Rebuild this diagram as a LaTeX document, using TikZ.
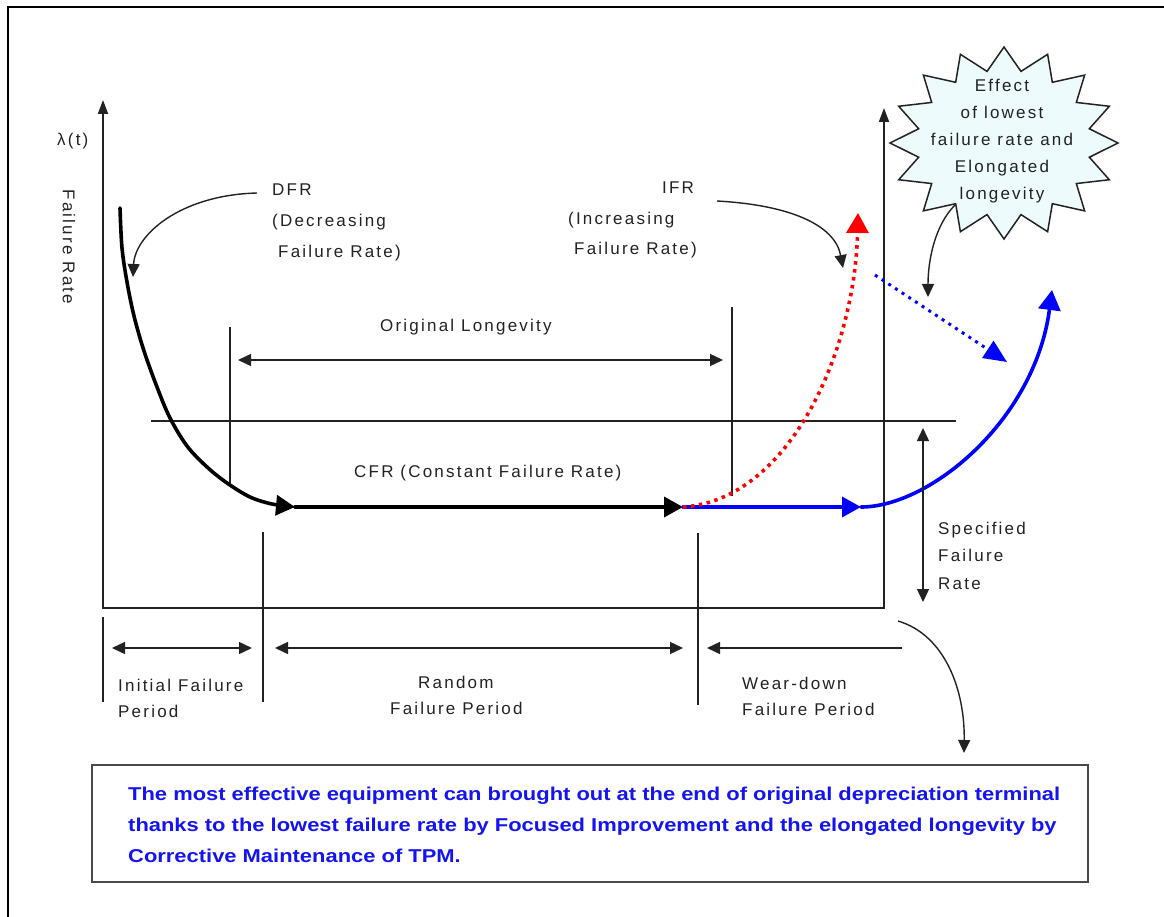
\documentclass[tikz,border=0pt]{standalone}
\usepackage{fontspec}
\usepackage{graphicx}
\setmainfont{Liberation Sans}[LetterSpace=13]
\newfontfamily\notefont{Liberation Sans}
\usetikzlibrary{arrows.meta}
\definecolor{ink}{HTML}{222222}
\definecolor{burstfill}{HTML}{EEFBFD}
\definecolor{noteblue}{HTML}{1414F0}
\definecolor{frameg}{HTML}{4A4A4A}
\newlength\notewidth

\tikzset{
  smalltri/.tip={Triangle[length=13pt,width=12pt]},
  axtri/.tip={Triangle[length=14pt,width=10pt]},
  bigtri/.tip={Triangle[length=19pt,width=20pt]},
  headtri/.tip={Triangle[length=20pt,width=22pt]},
  dottri/.tip={Triangle[length=23pt,width=20pt]},
}

\begin{document}
\settowidth\notewidth{\notefont\bfseries\fontsize{18.6}{31}\selectfont The most effective equipment can brought out at the end of original depreciation terminal}
\begin{tikzpicture}[x=1pt,y=-1pt,
  % multi-line labels are anchored at the baseline of their last line
  lbl/.style={font=\fontsize{17}{31}\selectfont, text=ink, inner sep=0pt,
              anchor=base west, align=left},
  axisln/.style={draw=ink, line width=2pt},
  ln/.style={draw=ink, line width=1.4pt},
  curveblk/.style={draw=black, line width=3.6pt, line cap=round},
  curveblu/.style={draw=blue, line width=3.6pt, line cap=round},
  reddot/.style={draw=red, line width=3.6pt, dash pattern=on 3.5pt off 4.5pt},
  bludot/.style={draw=blue, line width=3pt, dash pattern=on 3pt off 5pt},
  burst/.style={draw=ink, line width=1.5pt, fill=burstfill, line join=miter},
  notebox/.style={draw=frameg, line width=2.5pt, minimum width=996pt,
                  minimum height=117pt, inner sep=0pt},
  notetxt/.style={font=\notefont\bfseries\fontsize{18.6}{31}\selectfont,
                  text=noteblue, inner sep=0pt, anchor=base west, align=left},
]
\useasboundingbox (0,0) rectangle (1164,917);
\pgfmathsetmacro\notesx{932/\notewidth}

% outer frame (top and left edges)
\draw[black, line width=2.6pt] (8,917) -- (8,7) -- (1164,7);

% axes: open box with arrows on both verticals
\coordinate (ytop) at (103,100);
\coordinate (O) at (103,608);
\coordinate (xend) at (884,608);
\coordinate (rtop) at (884,108);
\draw[axisln, arrows=axtri-axtri] (ytop) -- (O) -- (xend) -- (rtop);

% specified failure rate level and period markers
\coordinate (sfL) at (151,421);
\coordinate (sfR) at (956,421);
\draw[ln] (sfL) -- (sfR);
\coordinate (vA1) at (230,327);  \coordinate (vA2) at (230,483);
\coordinate (vB1) at (732,307);  \coordinate (vB2) at (732,496);
\coordinate (vC1) at (103,617);  \coordinate (vC2) at (103,702);
\coordinate (vD1) at (263,532);  \coordinate (vD2) at (263,702);
\coordinate (vE1) at (698,533);  \coordinate (vE2) at (698,705);
\draw[ln] (vA1) -- (vA2);
\draw[ln] (vB1) -- (vB2);
\draw[ln] (vC1) -- (vC2);
\draw[ln] (vD1) -- (vD2);
\draw[ln] (vE1) -- (vE2);

% axis labels
\node[lbl] (lam) at (57,146) {λ(t)};
\node[lbl, anchor=center, rotate=-90] (yname) at (69,247) {Failure Rate};

% text labels
\node[lbl] (dfr) at (272,258) {DFR\\(Decreasing\\\hspace*{6pt}Failure Rate)};
\node[lbl] (ifr) at (568,255) {\hspace*{94pt}IFR\\(Increasing\\\hspace*{6pt}Failure Rate)};
\node[lbl] (olong) at (380,331) {Original Longevity};
\node[lbl] (cfr) at (354,477) {CFR (Constant Failure Rate)};
\node[lbl, font=\fontsize{17}{27.5}\selectfont] (sfr) at (938,589) {Specified\\Failure\\Rate};
\node[lbl, font=\fontsize{17}{26}\selectfont] (initp) at (118,717) {Initial Failure\\Period};
\node[lbl, font=\fontsize{17}{26}\selectfont] (randp) at (390,714) {\hspace*{28pt}Random\\Failure Period};
\node[lbl, font=\fontsize{17}{25.5}\selectfont] (wearp) at (742,715) {Wear-down\\Failure Period};

% starburst callout
\draw[burst] plot[samples at={0,...,31}]
  ({1004+(isodd(\x)?87:114)*cos(90-11.25*\x)}, {143-(isodd(\x)?73:96)*sin(90-11.25*\x)}) -- cycle;
\node[lbl, anchor=base, align=center, font=\fontsize{17}{27}\selectfont] (bursttxt) at (1002,200)
  {Effect\\of lowest\\failure rate and\\Elongated\\longevity};

% failure-rate curve: DFR then CFR
\coordinate (dfrtop) at (120,208);
\coordinate (cfrA) at (295,507);
\coordinate (cfrB) at (683,507);
\draw[curveblk, arrows=-bigtri] plot[smooth, tension=0.55] coordinates
  {(dfrtop) (122,248) (127,282) (134,316) (144,351) (157,387) (170,418)
   (187,446) (207,467) (227,483) (250,497) (272,504) (cfrA)};
\draw[curveblk, arrows=-bigtri] (cfrA) -- (cfrB);

% improved path (blue) and original wear-out (red dotted)
\coordinate (bluA) at (861,507);
\coordinate (bluTop) at (1052,290);
\coordinate (redTop) at (858,213);
\draw[curveblu, arrows=-bigtri] (cfrB) -- (bluA);
\draw[curveblu, arrows=-headtri] (bluA) .. controls (930,507) and (1035,420) .. (bluTop);
\draw[reddot, arrows=-headtri] (cfrB) .. controls (790,500) and (855,350) .. (redTop);

% shift of the wear-out curve
\coordinate (bdA) at (875,275);
\coordinate (bdB) at (1007,362);
\draw[bludot, arrows=-dottri] (bdA) -- (bdB);

% annotation pointers
\coordinate (dfrfoot) at (257,193);  \coordinate (dfrtip) at (133,277);
\coordinate (ifrfoot) at (717,201);  \coordinate (ifrtip) at (843,268);
\coordinate (burstfoot) at (955,205); \coordinate (bursttip) at (928,297);
\coordinate (notefoot) at (898,621); \coordinate (notetip) at (964,753);
\draw[ln, arrows=-smalltri] (dfrfoot) .. controls (180,195) and (135,235) .. (dfrtip);
\draw[ln, arrows=-smalltri] (ifrfoot) .. controls (790,205) and (835,225) .. (ifrtip);
\draw[ln, arrows=-smalltri] (burstfoot) .. controls (935,225) and (928,260) .. (bursttip);
\draw[ln, arrows=-smalltri] (notefoot) .. controls (945,635) and (965,690) .. (notetip);

% span arrows
\coordinate (olA) at (238,360);  \coordinate (olB) at (723,360);
\coordinate (sfA) at (923,428);  \coordinate (sfB) at (923,602);
\coordinate (ipA) at (112,648);  \coordinate (ipB) at (252,648);
\coordinate (rpA) at (275,648);  \coordinate (rpB) at (683,648);
\coordinate (wpA) at (707,648);  \coordinate (wpB) at (902,648);
\draw[ln, arrows=smalltri-smalltri] (olA) -- (olB);
\draw[ln, arrows=smalltri-smalltri] (sfA) -- (sfB);
\draw[ln, arrows=smalltri-smalltri] (ipA) -- (ipB);
\draw[ln, arrows=smalltri-smalltri] (rpA) -- (rpB);
\draw[ln, arrows=smalltri-] (wpA) -- (wpB);

% conclusion box
\node[notebox] (note) at (590,823.5) {};
\node[notetxt] (notetext) at (128,862)
  {\scalebox{\notesx}[1]{The most effective equipment can brought out at the end of original depreciation terminal}\\
   \scalebox{\notesx}[1]{thanks to the lowest failure rate by Focused Improvement and the elongated longevity by}\\
   \scalebox{\notesx}[1]{Corrective Maintenance of TPM.}};
\end{tikzpicture}
\end{document}
